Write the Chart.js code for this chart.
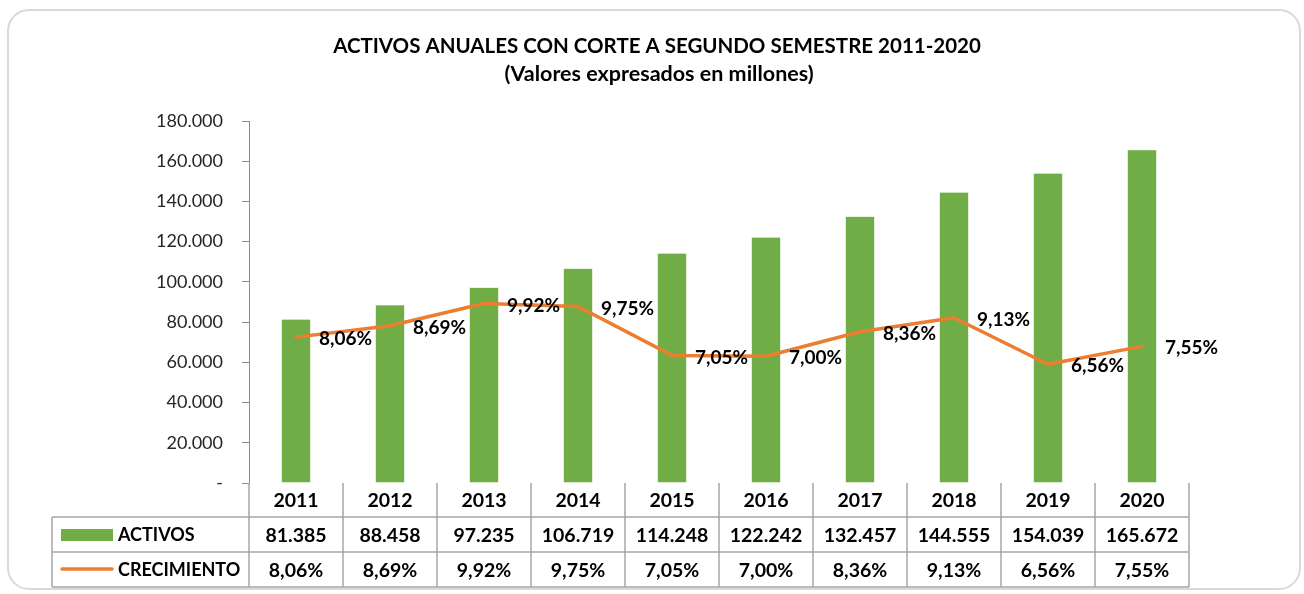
<!DOCTYPE html>
<html>
<head>
<meta charset="utf-8">
<script src="https://cdn.jsdelivr.net/npm/chart.js@4.4.1/dist/chart.umd.min.js"></script>
<style>
  html, body { margin: 0; padding: 0; background: #fff; }
  #wrap { position: relative; width: 1304px; height: 594px; }
  #card { position: absolute; left: 7px; top: 9px; width: 1294px; height: 581px; border: 2px solid #d9d9d9; border-radius: 22px; box-sizing: border-box; }
  canvas { position: absolute; left: 0; top: 0; }
</style>
</head>
<body>
<div id="wrap">
  <div id="card"></div>
  <canvas id="c" width="1304" height="594"></canvas>
</div>
<script>
const titleLines = ['ACTIVOS ANUALES CON CORTE A SEGUNDO SEMESTRE 2011-2020', '(Valores expresados en millones)'];
const years = ['2011','2012','2013','2014','2015','2016','2017','2018','2019','2020'];
const activos = [81385, 88458, 97235, 106719, 114248, 122242, 132457, 144555, 154039, 165672];
const crecimiento = [8.06, 8.69, 9.92, 9.75, 7.05, 7.00, 8.36, 9.13, 6.56, 7.55];
const seriesNames = ['ACTIVOS', 'CRECIMIENTO'];

const GREEN = '#70AD47', ORANGE = '#ED7D31', GRID = '#A6A6A6', TXT = '#000000';
const FONT = 'Lato, "Open Sans", sans-serif';

function fmtThousands(v) {
  if (v === 0) return '-';
  return Math.round(v).toString().replace(/\B(?=(\d{3})+(?!\d))/g, '.');
}
function fmtPct(v) { return v.toFixed(2).replace('.', ',') + '%'; }

const overlay = {
  id: 'overlay',
  afterDatasetsDraw(chart) {
    const ctx = chart.ctx;
    const x = chart.scales.x, ca = chart.chartArea;
    // title
    ctx.save();
    ctx.fillStyle = TXT;
    ctx.textAlign = 'center';
    ctx.textBaseline = 'middle';
    ctx.font = 'bold 20.5px ' + FONT;
    ctx.fillText(titleLines[0], 657, 46);
    ctx.font = 'bold 21.5px ' + FONT;
    ctx.fillText(titleLines[1], 659, 74);
    // line labels
    const meta = chart.getDatasetMeta(1);
    ctx.textAlign = 'left';
    ctx.font = 'bold 19px ' + FONT;
    meta.data.forEach((p, i) => {
      ctx.fillText(fmtPct(crecimiento[i]), p.x + 23, p.y + 2);
    });
    // data table
    const half = (x.getPixelForValue(1) - x.getPixelForValue(0)) / 2;
    const top = ca.bottom, r1 = top + 34, r2 = r1 + 35, r3 = r2 + 35;
    const left = 52, right = x.getPixelForValue(years.length - 1) + half;
    ctx.strokeStyle = GRID;
    ctx.lineWidth = 1.5;
    ctx.beginPath();
    [r1, r2, r3].forEach(yy => { ctx.moveTo(left, yy); ctx.lineTo(right, yy); });
    ctx.moveTo(left, r1); ctx.lineTo(left, r3);
    for (let i = 0; i <= years.length; i++) {
      const xx = x.getPixelForValue(i) - half;
      ctx.moveTo(xx, top); ctx.lineTo(xx, r3);
    }
    ctx.stroke();
    ctx.fillStyle = TXT;
    ctx.textAlign = 'center';
    ctx.font = 'bold 19.5px ' + FONT;
    years.forEach((yv, i) => {
      const cx = x.getPixelForValue(i);
      ctx.fillText(yv, cx, (top + r1) / 2 + 1);
      ctx.fillText(fmtThousands(activos[i]), cx, (r1 + r2) / 2 + 1);
      ctx.fillText(fmtPct(crecimiento[i]), cx, (r2 + r3) / 2 + 1);
    });
    // legend keys
    ctx.fillStyle = GREEN;
    ctx.fillRect(61, 529, 52, 12);
    ctx.strokeStyle = ORANGE;
    ctx.lineWidth = 3.5;
    ctx.lineCap = 'round';
    ctx.beginPath(); ctx.moveTo(62, 569); ctx.lineTo(112, 569); ctx.stroke();
    ctx.fillStyle = TXT;
    ctx.textAlign = 'left';
    ctx.font = 'bold 18px ' + FONT;
    ctx.fillText(seriesNames[0], 118, (r1 + r2) / 2 + 1);
    ctx.fillText(seriesNames[1], 118, (r2 + r3) / 2 + 1);
    ctx.restore();
  }
};

new Chart(document.getElementById('c'), {
  type: 'bar',
  data: {
    labels: years,
    datasets: [
      { label: seriesNames[0], data: activos, backgroundColor: GREEN, borderColor: '#A9D08E', borderWidth: 0.5,
        yAxisID: 'y', categoryPercentage: 1, barPercentage: 0.31, order: 2 },
      { label: seriesNames[1], type: 'line', data: crecimiento, borderColor: ORANGE, borderWidth: 3.5,
        pointRadius: 0, tension: 0, yAxisID: 'y1', order: 1, borderCapStyle: 'round', borderJoinStyle: 'round' }
    ]
  },
  options: {
    responsive: false,
    animation: false,
    layout: { padding: { left: 40, top: 121, right: 115, bottom: 111 } },
    plugins: { legend: { display: false }, tooltip: { enabled: false }, title: { display: false } },
    scales: {
      x: { display: false, offset: true },
      y: {
        min: 0, max: 180000,
        afterFit(s) { s.width = 209; },
        ticks: { stepSize: 20000, padding: 19, color: '#262626', font: { family: FONT, size: 18 },
          callback: v => fmtThousands(v) },
        grid: { drawOnChartArea: false, drawTicks: true, tickLength: 7, color: '#8C8C8C' },
        border: { display: true, color: '#8C8C8C', width: 1 }
      },
      y1: { display: false, min: 0, max: 20 }
    }
  },
  plugins: [overlay]
});
</script>
</body>
</html>
